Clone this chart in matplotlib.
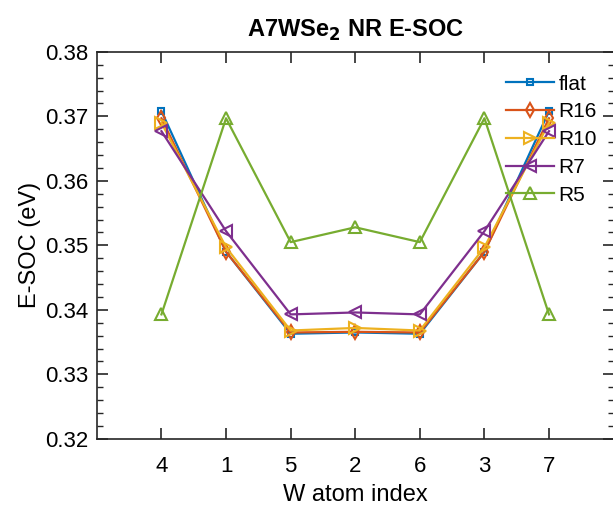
import matplotlib.pyplot as plt
from matplotlib.ticker import MultipleLocator

plt.rcParams['font.family'] = ['Liberation Sans', 'DejaVu Sans']

# W atom order along the ribbon
atom_index = ['4', '1', '5', '2', '6', '3', '7']

# E-SOC (eV) for each ribbon geometry
flat = [0.3708, 0.3490, 0.3363, 0.3365, 0.3363, 0.3490, 0.3708]
r16 = [0.3697, 0.3490, 0.3365, 0.3366, 0.3365, 0.3490, 0.3697]
r10 = [0.3690, 0.3497, 0.3368, 0.3372, 0.3368, 0.3497, 0.3690]
r7 = [0.3677, 0.3522, 0.3393, 0.3396, 0.3393, 0.3522, 0.3677]
r5 = [0.3393, 0.3697, 0.3505, 0.3528, 0.3505, 0.3697, 0.3393]

# label, values, marker, marker size, colour
series = [
    ('flat', flat, 's', 5, '#0072BD'),
    ('R16', r16, 'd', 7, '#D95319'),
    ('R10', r10, '>', 9, '#EDB120'),
    ('R7', r7, '<', 9, '#7E2F8E'),
    ('R5', r5, '^', 9, '#77AC30'),
]

fig = plt.figure(figsize=(6.13, 5.08), dpi=100)
ax = fig.add_axes([0.158, 0.136, 0.843, 0.762])

x = list(range(1, len(atom_index) + 1))
for name, vals, mk, ms, col in series:
    ax.plot(x, vals, color=col, marker=mk, markerfacecolor='none',
            markeredgecolor=col, markersize=ms, markeredgewidth=1.5,
            linewidth=1.6, label=name)

ax.set_xlim(0, 8)
ax.set_ylim(0.32, 0.38)
ax.set_xticks(x)
ax.set_xticklabels(atom_index)
ax.yaxis.set_major_locator(MultipleLocator(0.01))
ax.yaxis.set_minor_locator(MultipleLocator(0.002))
ax.yaxis.set_major_formatter(plt.FormatStrFormatter('%.2f'))

ax.tick_params(axis='both', which='major', direction='in', length=8,
               width=1.2, labelsize=16, top=True, right=True, color='#262626')
ax.tick_params(axis='x', which='major', pad=12)
ax.tick_params(axis='y', which='major', pad=6)
ax.tick_params(axis='y', which='minor', direction='in', length=4,
               width=1.0, right=True, color='#262626')
for sp in ax.spines.values():
    sp.set_linewidth(1.2)
    sp.set_color('#262626')

ax.set_xlabel('W atom index', fontsize=17, labelpad=5)
ax.set_ylabel('E-SOC (eV)', fontsize=17, labelpad=3)
ax.set_title(r'A7WSe$_\mathbf{2}$ NR E-SOC', fontsize=17, fontweight='bold',
             pad=11)

ax.legend(loc='upper right', bbox_to_anchor=(1.012, 1.0), frameon=False,
          fontsize=15, handlelength=2.3, handletextpad=0.2,
          labelspacing=0.42, borderaxespad=0.4, borderpad=0.7)

fig.savefig('out.png', dpi=100)
